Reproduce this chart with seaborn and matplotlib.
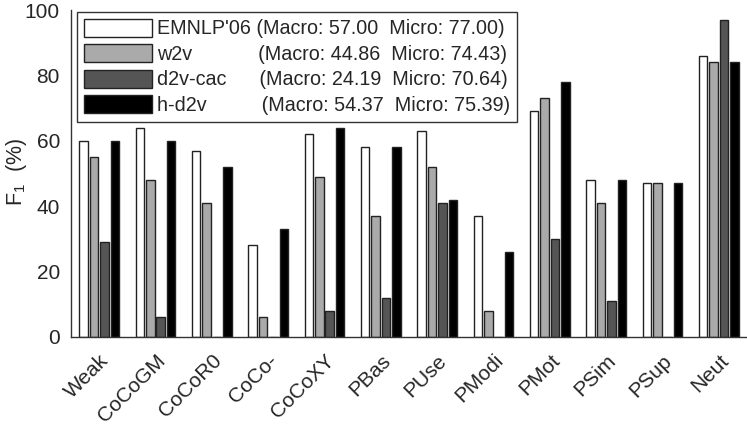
import numpy as np
import pandas as pd
import matplotlib
matplotlib.use("Agg")
import matplotlib.pyplot as plt
import seaborn as sns

categories = ["Weak", "CoCoGM", "CoCoR0", "CoCo-", "CoCoXY", "PBas",
              "PUse", "PModi", "PMot", "PSim", "PSup", "Neut"]
methods = ["EMNLP'06 (Macro: 57.00  Micro: 77.00)",
           "w2v" + " " * 12 + "(Macro: 44.86  Micro: 74.43)",
           "d2v-cac" + " " * 6 + "(Macro: 24.19  Micro: 70.64)",
           "h-d2v" + " " * 10 + "(Macro: 54.37  Micro: 75.39)"]
emnlp = [60, 64, 57, 28, 62, 58, 63, 37, 69, 48, 47, 86]
w2v = [55, 48, 41, 6, 49, 37, 52, 8, 73, 41, 47, 84]
d2v_cac = [29, 6, 0, 0, 8, 12, 41, 0, 30, 11, 0, 97]
h_d2v = [60, 60, 52, 33, 64, 58, 42, 26, 78, 48, 47, 84]

rows = []
for m, vals in zip(methods, [emnlp, w2v, d2v_cac, h_d2v]):
    for c, v in zip(categories, vals):
        rows.append({"cat": c, "method": m, "f1": v})
df = pd.DataFrame(rows)

sns.set_style("white")
plt.rcParams['font.family'] = ['Liberation Sans', 'DejaVu Sans']
plt.rcParams['mathtext.fontset'] = 'custom'
plt.rcParams['mathtext.rm'] = 'Liberation Sans'
plt.rcParams['mathtext.it'] = 'Liberation Sans'

fig = plt.figure(figsize=(7.47, 4.29), dpi=100)
ax = fig.add_axes([71 / 747, 1 - 337 / 429, 676 / 747, 327 / 429])

colors = ["#ffffff", "#aaaaaa", "#555555", "#000000"]
sns.barplot(data=df, x="cat", y="f1", hue="method", palette=colors,
            width=0.74, gap=0.18, edgecolor="#222222", linewidth=1.0,
            ax=ax, errorbar=None)

ax.set_xlim(-0.5, 11.5)
ax.set_ylim(0, 100)
ax.set_yticks([0, 20, 40, 60, 80, 100])
ax.tick_params(axis="y", direction="in", length=4, labelsize=15, pad=8)
ax.tick_params(axis="x", length=0, labelsize=15, pad=10)
plt.setp(ax.get_xticklabels(), rotation=45, ha="right", va="top",
         rotation_mode="anchor")
ax.set_xlabel("")
ax.set_ylabel("F$_1$  (%)", fontsize=15.5)
ax.yaxis.set_label_coords((29 - 71) / 676, 0.505)
for s in ["top", "right"]:
    ax.spines[s].set_visible(False)
for s in ["left", "bottom"]:
    ax.spines[s].set_color("#333333")
    ax.spines[s].set_linewidth(1.0)

leg = ax.legend(loc="upper left", bbox_to_anchor=(6 / 676, 1 - 2 / 327),
                borderaxespad=0, fontsize=14.2,
                handlelength=3.45, handleheight=1.0, labelspacing=0.3,
                handletextpad=0.25, borderpad=0.35,
                fancybox=False, frameon=True, edgecolor="#333333",
                framealpha=1)
leg.get_frame().set_linewidth(1.0)

fig.savefig("out.png", dpi=100)
